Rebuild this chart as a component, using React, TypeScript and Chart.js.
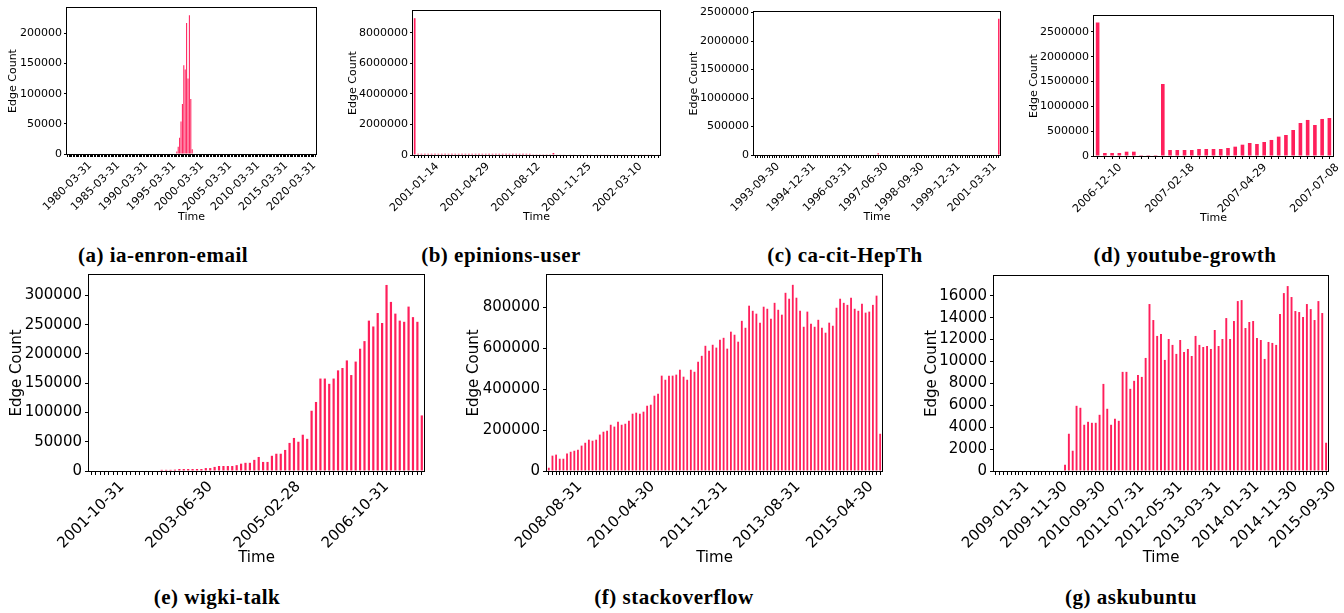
import React, { useEffect, useRef } from 'react';
import { Chart, registerables } from 'chart.js';

Chart.register(...registerables);
Chart.defaults.font.family = "'DejaVu Sans', sans-serif";
Chart.defaults.color = '#000';

const BAR_COLOR = '#ff1f5b';

function pad2(n: number) {
  return String(n).padStart(2, '0');
}
function fmtDate(d: Date) {
  return `${d.getUTCFullYear()}-${pad2(d.getUTCMonth() + 1)}-${pad2(d.getUTCDate())}`;
}
function monthEndSeries(year: number, month: number, count: number, stepMonths: number) {
  const out: string[] = [];
  for (let i = 0; i < count; i++) {
    const m = month - 1 + i * stepMonths;
    out.push(fmtDate(new Date(Date.UTC(year, m + 1, 0))));
  }
  return out;
}
function weeklySeries(year: number, month: number, day: number, count: number) {
  const out: string[] = [];
  for (let i = 0; i < count; i++) out.push(fmtDate(new Date(Date.UTC(year, month - 1, day + 7 * i))));
  return out;
}

// ---------- (a) ia-enron-email : quarterly ----------
const enronCategories = monthEndSeries(1980, 3, 178, 3);
const enronYTicks = [0, 50000, 100000, 150000, 200000];
const enronValues = [
  0, 0, 0, 0, 0, 0, 0, 0, 0, 0,
  0, 0, 0, 0, 0, 0, 0, 0, 0, 0,
  0, 0, 0, 0, 0, 0, 0, 0, 0, 0,
  0, 0, 0, 0, 0, 0, 0, 0, 0, 0,
  0, 0, 0, 0, 0, 0, 0, 0, 0, 0,
  0, 0, 0, 0, 0, 0, 0, 0, 0, 0,
  0, 0, 0, 0, 0, 0, 0, 0, 0, 0,
  0, 0, 0, 0, 0, 0, 0, 0, 4000, 12000,
  27000, 54000, 83000, 147000, 140000, 217000, 125000, 230000, 91000, 8000,
  0, 0, 0, 0, 0, 0, 0, 0, 0, 0,
  0, 0, 0, 0, 0, 0, 0, 0, 0, 0,
  0, 0, 0, 0, 0, 0, 0, 0, 0, 0,
  0, 0, 0, 0, 0, 0, 0, 0, 0, 0,
  0, 0, 0, 0, 0, 0, 0, 0, 0, 0,
  0, 0, 0, 0, 0, 0, 0, 0, 0, 0,
  0, 0, 0, 0, 0, 0, 0, 0, 0, 0,
  0, 0, 0, 0, 0, 0, 0, 0, 0, 0,
  0, 0, 0, 0, 0, 0, 0, 0,
];

// ---------- (b) epinions-user : weekly ----------
const epinionsCategories = weeklySeries(2001, 1, 14, 73);
const epinionsYTicks = [0, 2000000, 4000000, 6000000, 8000000];
const epinionsValues = [
  8950000, 80000, 80000, 80000, 80000, 80000, 80000, 80000, 80000, 80000,
  80000, 80000, 80000, 80000, 80000, 80000, 80000, 80000, 80000, 80000,
  80000, 80000, 80000, 80000, 80000, 80000, 80000, 80000, 80000, 80000,
  80000, 80000, 80000, 80000, 80000, 50000, 50000, 50000, 50000, 50000,
  50000, 130000, 25000, 25000, 25000, 25000, 25000, 25000, 25000, 25000,
  25000, 25000, 25000, 25000, 25000, 25000, 25000, 25000, 25000, 25000,
  25000, 25000, 25000, 25000, 25000, 25000, 25000, 25000, 25000, 25000,
  25000, 25000, 25000,
];

// ---------- (c) ca-cit-HepTh : monthly ----------
const hepthCategories = monthEndSeries(1993, 9, 102, 1);
const hepthYTicks = [0, 500000, 1000000, 1500000, 2000000, 2500000];
const hepthValues = [
  8000, 8000, 8000, 8000, 8000, 8000, 8000, 8000, 8000, 8000,
  8000, 8000, 8000, 8000, 8000, 8000, 8000, 8000, 8000, 8000,
  8000, 8000, 8000, 8000, 8000, 8000, 8000, 8000, 8000, 8000,
  8000, 8000, 8000, 8000, 8000, 8000, 8000, 8000, 8000, 8000,
  8000, 8000, 8000, 8000, 8000, 8000, 8000, 8000, 8000, 8000,
  8000, 30000, 8000, 8000, 8000, 8000, 8000, 8000, 8000, 8000,
  8000, 8000, 8000, 8000, 8000, 8000, 8000, 8000, 8000, 8000,
  8000, 8000, 8000, 8000, 8000, 8000, 8000, 8000, 8000, 8000,
  8000, 8000, 8000, 8000, 8000, 8000, 8000, 8000, 8000, 8000,
  8000, 8000, 8000, 8000, 8000, 8000, 8000, 8000, 8000, 8000,
  8000, 2390000,
];

// ---------- (d) youtube-growth : weekly ----------
const youtubeCategories = weeklySeries(2006, 12, 10, 33);
const youtubeYTicks = [0, 500000, 1000000, 1500000, 2000000, 2500000];
const youtubeValues = [
  2690000, 60000, 60000, 60000, 87000, 87000, 3000, 3000, 3000, 1450000,
  121000, 121000, 121000, 121000, 141000, 141000, 141000, 141000, 161000, 188000,
  228000, 262000, 242000, 282000, 323000, 390000, 423000, 524000, 665000, 726000,
  625000, 746000, 766000,
];

// ---------- (e) wigki-talk : monthly ----------
const wikiCategories = monthEndSeries(2001, 10, 76, 1);
const wikiYTicks = [0, 50000, 100000, 150000, 200000, 250000, 300000];
const wikiValues = [
  0, 0, 0, 0, 0, 0, 0, 0, 0, 0,
  0, 0, 0, 0, 0, 0, 2000, 2000, 2000, 2300,
  3400, 3400, 3400, 3400, 3400, 3400, 5000, 5000, 7000, 8500,
  8500, 8500, 8500, 10000, 12500, 14000, 14000, 19000, 24000, 15500,
  15500, 26000, 29500, 29500, 36000, 48000, 56500, 50000, 62000, 55000,
  103000, 118000, 158000, 158000, 149000, 158000, 172000, 176000, 189000, 164000,
  187000, 209000, 222000, 257000, 247000, 270000, 253000, 318000, 289000, 269000,
  257000, 255000, 281000, 263000, 255000, 95000,
];

// ---------- (f) stackoverflow : monthly ----------
const stackCategories = monthEndSeries(2008, 8, 92, 1);
const stackYTicks = [0, 200000, 400000, 600000, 800000];
const stackValues = [
  16000, 75000, 80000, 60000, 60000, 86000, 94000, 99000, 104000, 124000,
  138000, 153000, 148000, 153000, 178000, 192000, 197000, 226000, 217000, 241000,
  226000, 231000, 246000, 280000, 285000, 280000, 290000, 319000, 324000, 368000,
  378000, 466000, 446000, 466000, 466000, 471000, 495000, 461000, 446000, 495000,
  485000, 534000, 563000, 612000, 588000, 617000, 603000, 642000, 651000, 598000,
  681000, 666000, 632000, 734000, 700000, 808000, 783000, 769000, 725000, 803000,
  793000, 744000, 822000, 788000, 764000, 871000, 842000, 910000, 847000, 783000,
  705000, 779000, 720000, 705000, 739000, 700000, 676000, 725000, 710000, 798000,
  842000, 822000, 812000, 847000, 793000, 783000, 818000, 774000, 779000, 812000,
  857000, 182000,
];

// ---------- (g) askubuntu : monthly ----------
const askCategories = monthEndSeries(2009, 1, 87, 1);
const askYTicks = [0, 2000, 4000, 6000, 8000, 10000, 12000, 14000, 16000];
const askValues = [
  0, 0, 0, 0, 0, 0, 0, 0, 0, 0,
  0, 0, 0, 0, 0, 0, 0, 0, 580, 3400,
  1850, 5950, 5770, 4220, 4490, 4400, 4400, 5130, 7950, 5680,
  4220, 4770, 4580, 9050, 9050, 7500, 8230, 8770, 8590, 10320,
  15240, 13780, 12330, 12510, 10140, 12050, 11510, 10690, 11960, 10870,
  11140, 10500, 12330, 11510, 11320, 11410, 11140, 12870, 11410, 12050,
  13960, 12050, 13690, 15510, 15600, 13050, 13600, 13690, 12140, 11960,
  10230, 11780, 11690, 11510, 14330, 16240, 16880, 15880, 14600, 14510,
  14060, 15240, 14780, 13780, 15510, 14420, 2580,
];

type PanelSpec = {
  caption: string;
  categories: string[];
  values: number[];
  yTicks: number[];
  labelStep: number;
  yMax: number;
  barPct: number;
  fontSize: number;
  left: number;
  top: number;
  yAxisWidth: number;
  plotWidth: number;
  plotHeight: number;
  padTop: number;
  padRight: number;
  xAxisHeight: number;
  tickLen: number;
  tickPad: number;
  captionX: number;
  captionY: number;
};

const panels: PanelSpec[] = [
  { caption: '(a) ia-enron-email', categories: enronCategories, values: enronValues, yTicks: enronYTicks, labelStep: 20, yMax: 242000, barPct: 0.75,
    fontSize: 11, left: 7, top: 0, yAxisWidth: 60, plotWidth: 249, plotHeight: 146, padTop: 8, padRight: 10, xAxisHeight: 70,
    tickLen: 3, tickPad: 2, captionX: 163, captionY: 255 },
  { caption: '(b) epinions-user', categories: epinionsCategories, values: epinionsValues, yTicks: epinionsYTicks, labelStep: 15, yMax: 9420000, barPct: 0.5,
    fontSize: 11, left: 347, top: 0, yAxisWidth: 66, plotWidth: 247, plotHeight: 144, padTop: 11, padRight: 10, xAxisHeight: 69,
    tickLen: 3, tickPad: 2, captionX: 501, captionY: 255 },
  { caption: '(c) ca-cit-HepTh', categories: hepthCategories, values: hepthValues, yTicks: hepthYTicks, labelStep: 15, yMax: 2510000, barPct: 0.6,
    fontSize: 11, left: 688, top: 0, yAxisWidth: 66, plotWidth: 246, plotHeight: 143, padTop: 12, padRight: 10, xAxisHeight: 69,
    tickLen: 3, tickPad: 2, captionX: 845, captionY: 255 },
  { caption: '(d) youtube-growth', categories: youtubeCategories, values: youtubeValues, yTicks: youtubeYTicks, labelStep: 10, yMax: 2820000, barPct: 0.5,
    fontSize: 11, left: 1028, top: 0, yAxisWidth: 66, plotWidth: 239, plotHeight: 140, padTop: 16, padRight: 11, xAxisHeight: 69,
    tickLen: 3, tickPad: 2, captionX: 1185, captionY: 255 },
  { caption: '(e) wigki-talk', categories: wikiCategories, values: wikiValues, yTicks: wikiYTicks, labelStep: 20, yMax: 335000, barPct: 0.5,
    fontSize: 15, left: 8, top: 265, yAxisWidth: 81, plotWidth: 335, plotHeight: 196, padTop: 10, padRight: 10, xAxisHeight: 96,
    tickLen: 4, tickPad: 3, captionX: 217, captionY: 597 },
  { caption: '(f) stackoverflow', categories: stackCategories, values: stackValues, yTicks: stackYTicks, labelStep: 20, yMax: 958000, barPct: 0.5,
    fontSize: 15, left: 465, top: 265, yAxisWidth: 82, plotWidth: 335, plotHeight: 196, padTop: 10, padRight: 10, xAxisHeight: 96,
    tickLen: 4, tickPad: 3, captionX: 674, captionY: 597 },
  { caption: '(g) askubuntu', categories: askCategories, values: askValues, yTicks: askYTicks, labelStep: 10, yMax: 17800, barPct: 0.5,
    fontSize: 15, left: 923, top: 265, yAxisWidth: 71, plotWidth: 334, plotHeight: 195, padTop: 11, padRight: 16, xAxisHeight: 96,
    tickLen: 4, tickPad: 3, captionX: 1131, captionY: 597 },
];

const framePlugin = {
  id: 'frame',
  afterDraw(chart: any) {
    const { ctx, chartArea } = chart;
    const { left, top, right, bottom } = chartArea;
    ctx.save();
    ctx.strokeStyle = '#000';
    ctx.lineWidth = 1;
    ctx.strokeRect(Math.round(left) - 0.5, Math.round(top) - 0.5, Math.round(right - left) + 1, Math.round(bottom - top) + 1);
    ctx.restore();
  },
};

function Panel({ spec }: { spec: PanelSpec }) {
  const ref = useRef<HTMLCanvasElement>(null);
  const width = spec.yAxisWidth + spec.plotWidth + spec.padRight;
  const height = spec.padTop + spec.plotHeight + spec.xAxisHeight;

  useEffect(() => {
    const canvas = ref.current;
    if (!canvas) return;
    const fam = "'DejaVu Sans', sans-serif";
    const measure = document.createElement('canvas').getContext('2d')!;
    measure.font = `${spec.fontSize}px ${fam}`;
    const labelW = measure.measureText(spec.categories[0]).width;
    const labelOffset = (labelW * Math.SQRT1_2) / 2;

    const chart = new Chart(canvas, {
      type: 'bar',
      data: {
        labels: spec.categories,
        datasets: [
          {
            data: spec.values,
            backgroundColor: BAR_COLOR,
            borderWidth: 0,
            barPercentage: spec.barPct,
            categoryPercentage: 1.0,
          },
        ],
      },
      options: {
        responsive: false,
        maintainAspectRatio: false,
        animation: false,
        devicePixelRatio: 1,
        layout: { padding: { top: spec.padTop, right: spec.padRight, left: 0, bottom: 0 } },
        plugins: { legend: { display: false }, tooltip: { enabled: false }, title: { display: false } },
        scales: {
          x: {
            grid: { display: true, drawOnChartArea: false, drawTicks: true, tickLength: spec.tickLen, color: '#000', lineWidth: 1, offset: false },
            border: { display: false },
            ticks: {
              autoSkip: false,
              minRotation: 45,
              maxRotation: 45,
              padding: spec.tickPad,
              labelOffset,
              color: '#000',
              font: { size: spec.fontSize, family: fam },
              callback: (_v: any, index: number) => (index % spec.labelStep === 0 ? spec.categories[index] : ''),
            },
            title: { display: true, text: 'Time', color: '#000', font: { size: spec.fontSize, family: fam }, padding: 0 },
            afterFit: (scale: any) => {
              scale.height = spec.xAxisHeight;
              scale.paddingLeft = 0;
              scale.paddingRight = 0;
            },
          },
          y: {
            min: 0,
            max: spec.yMax,
            grid: { display: true, drawOnChartArea: false, drawTicks: true, tickLength: spec.tickLen, color: '#000', lineWidth: 1 },
            border: { display: false },
            ticks: {
              padding: spec.tickPad,
              color: '#000',
              font: { size: spec.fontSize, family: fam },
              callback: (v: any) => String(v),
            },
            afterBuildTicks: (scale: any) => {
              scale.ticks = spec.yTicks.map((v) => ({ value: v }));
            },
            title: { display: true, text: 'Edge Count', color: '#000', font: { size: spec.fontSize, family: fam }, padding: 0 },
            afterFit: (scale: any) => {
              scale.width = spec.yAxisWidth;
              scale.paddingTop = 0;
              scale.paddingBottom = 0;
            },
          },
        },
      } as any,
      plugins: [framePlugin],
    });
    return () => chart.destroy();
  }, [spec]);

  return (
    <>
      <canvas
        ref={ref}
        width={width}
        height={height}
        style={{ position: 'absolute', left: spec.left, top: spec.top, width, height }}
      />
      <div
        style={{
          position: 'absolute',
          left: spec.captionX - 150,
          top: spec.captionY - 13,
          width: 300,
          height: 26,
          lineHeight: '26px',
          textAlign: 'center',
          fontFamily: "'Liberation Serif', serif",
          fontWeight: 'bold',
          fontSize: 21,
          letterSpacing: '0.5px',
          color: '#000',
          whiteSpace: 'nowrap',
        }}
      >
        {spec.caption}
      </div>
    </>
  );
}

export default function App() {
  return (
    <div style={{ position: 'absolute', left: 0, top: 0, width: 1344, height: 613, background: '#fff', overflow: 'hidden' }}>
      {panels.map((p) => (
        <Panel key={p.caption} spec={p} />
      ))}
    </div>
  );
}
